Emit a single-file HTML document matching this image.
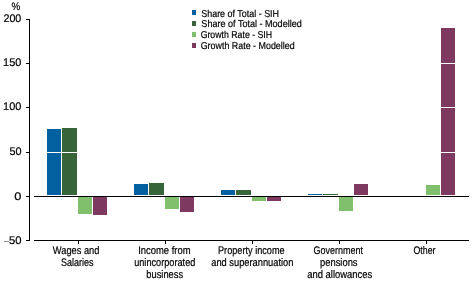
<!DOCTYPE html>
<html><head><meta charset="utf-8"><style>
html,body{margin:0;padding:0;background:#fff;}
svg{display:block;will-change:transform;}
text{font-family:"Liberation Sans",sans-serif;text-rendering:geometricPrecision;fill:#000;stroke:#000;stroke-width:0.2px;}
.yl{font-size:11px;}
.pc{font-size:10px;}
.cl{font-size:11px;}
.lg{font-size:10px;}
</style></head><body>
<svg width="472" height="283" viewBox="0 0 472 283">
<rect width="472" height="283" fill="#fff"/>
<g shape-rendering="crispEdges">
<rect x="47" y="129" width="14" height="66" fill="#0060a0"/><rect x="62" y="128" width="15" height="67" fill="#38643a"/><rect x="78" y="197" width="14" height="17" fill="#80bf6b"/><rect x="93" y="197" width="14" height="18" fill="#7e3961"/><rect x="134" y="184" width="14" height="11" fill="#0060a0"/><rect x="149" y="183" width="15" height="12" fill="#38643a"/><rect x="165" y="197" width="14" height="12" fill="#80bf6b"/><rect x="180" y="197" width="14" height="15" fill="#7e3961"/><rect x="221" y="190" width="14" height="5" fill="#0060a0"/><rect x="236" y="190" width="15" height="5" fill="#38643a"/><rect x="252" y="197" width="14" height="4" fill="#80bf6b"/><rect x="267" y="197" width="14" height="4" fill="#7e3961"/><rect x="308" y="194" width="14" height="1" fill="#0060a0"/><rect x="323" y="194" width="15" height="1" fill="#38643a"/><rect x="339" y="197" width="14" height="14" fill="#80bf6b"/><rect x="354" y="184" width="14" height="11" fill="#7e3961"/><rect x="426" y="185" width="14" height="10" fill="#80bf6b"/><rect x="441" y="28" width="14" height="167" fill="#7e3961"/><rect x="4" y="241" width="5" height="1" fill="#8a8a8a"/><rect x="192" y="10" width="4" height="5" fill="#0060a0"/><rect x="192" y="21" width="4" height="5" fill="#38643a"/><rect x="192" y="32" width="4" height="5" fill="#80bf6b"/><rect x="192" y="43" width="4" height="5" fill="#7e3961"/>
<rect x="34" y="63" width="435" height="1" fill="#fff"/><rect x="34" y="107" width="435" height="1" fill="#fff"/><rect x="34" y="152" width="435" height="1" fill="#fff"/>
<rect x="29" y="19" width="1" height="222" fill="#000"/><rect x="26" y="19" width="3" height="1" fill="#000"/><rect x="26" y="63" width="3" height="1" fill="#000"/><rect x="26" y="107" width="3" height="1" fill="#000"/><rect x="26" y="152" width="3" height="1" fill="#000"/><rect x="26" y="196" width="3" height="1" fill="#000"/><rect x="26" y="240" width="3" height="1" fill="#000"/><rect x="34" y="196" width="435" height="1" fill="#000"/><rect x="34" y="240" width="435" height="1" fill="#000"/><rect x="78" y="241" width="1" height="3" fill="#000"/><rect x="165" y="241" width="1" height="3" fill="#000"/><rect x="252" y="241" width="1" height="3" fill="#000"/><rect x="339" y="241" width="1" height="3" fill="#000"/><rect x="426" y="241" width="1" height="3" fill="#000"/>
</g>
<text x="3.41" y="22" textLength="17.94" lengthAdjust="spacingAndGlyphs" class="yl">200</text><text x="3.05" y="66" textLength="18.31" lengthAdjust="spacingAndGlyphs" class="yl">150</text><text x="3.05" y="110" textLength="18.31" lengthAdjust="spacingAndGlyphs" class="yl">100</text><text x="9.41" y="155" textLength="12.09" lengthAdjust="spacingAndGlyphs" class="yl">50</text><text x="14.32" y="200" textLength="7.12" lengthAdjust="spacingAndGlyphs" class="yl">0</text><text x="8.99" y="244" textLength="12.52" lengthAdjust="spacingAndGlyphs" class="yl">50</text><text x="11.56" y="10" textLength="8.69" lengthAdjust="spacingAndGlyphs" class="yl">%</text><text x="52.80" y="254" textLength="46.63" lengthAdjust="spacingAndGlyphs" class="cl">Wages and</text><text x="60.89" y="266" textLength="32.62" lengthAdjust="spacingAndGlyphs" class="cl">Salaries</text><text x="138.14" y="254" textLength="52.41" lengthAdjust="spacingAndGlyphs" class="cl">Income from</text><text x="134.18" y="266" textLength="61.16" lengthAdjust="spacingAndGlyphs" class="cl">unincorporated</text><text x="146.37" y="278" textLength="36.74" lengthAdjust="spacingAndGlyphs" class="cl">business</text><text x="217.97" y="254" textLength="66.72" lengthAdjust="spacingAndGlyphs" class="cl">Property income</text><text x="211.28" y="266" textLength="82.16" lengthAdjust="spacingAndGlyphs" class="cl">and superannuation</text><text x="313.49" y="254" textLength="49.53" lengthAdjust="spacingAndGlyphs" class="cl">Government</text><text x="320.06" y="266" textLength="37.49" lengthAdjust="spacingAndGlyphs" class="cl">pensions</text><text x="307.17" y="278" textLength="65.12" lengthAdjust="spacingAndGlyphs" class="cl">and allowances</text><text x="413.50" y="254" textLength="22.01" lengthAdjust="spacingAndGlyphs" class="cl">Other</text><text x="201.25" y="17" textLength="77.80" lengthAdjust="spacingAndGlyphs" class="lg">Share of Total - SIH</text><text x="201.35" y="27" textLength="100.43" lengthAdjust="spacingAndGlyphs" class="lg">Share of Total - Modelled</text><text x="200.66" y="38" textLength="71.47" lengthAdjust="spacingAndGlyphs" class="lg">Growth Rate - SIH</text><text x="200.66" y="49" textLength="93.99" lengthAdjust="spacingAndGlyphs" class="lg">Growth Rate - Modelled</text>
</svg>
</body></html>
